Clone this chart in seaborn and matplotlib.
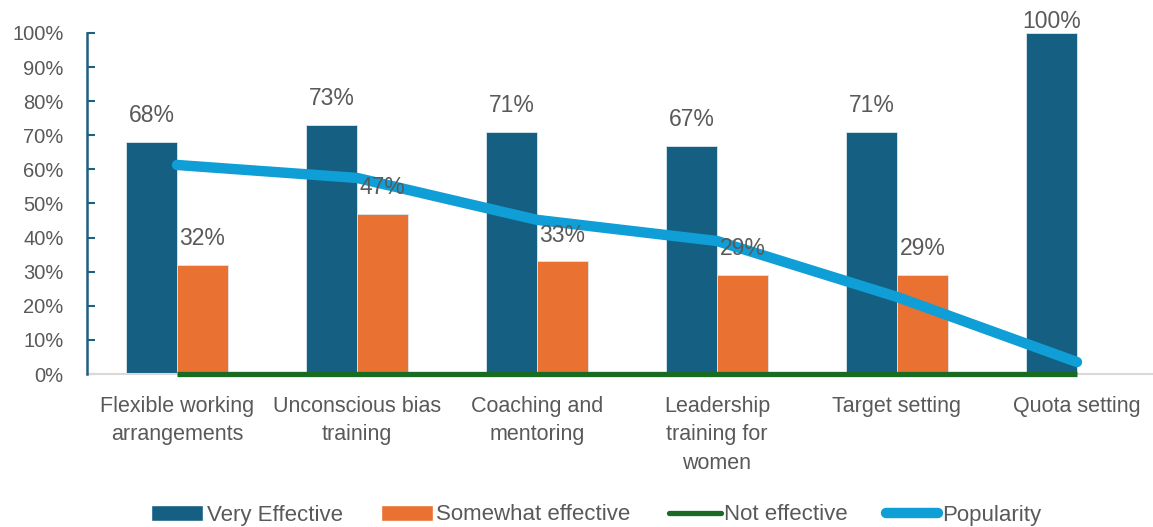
import numpy as np
import pandas as pd
import matplotlib
matplotlib.use("Agg")
import matplotlib.pyplot as plt
import seaborn as sns
from matplotlib.patches import Patch
from matplotlib.lines import Line2D

categories = ["Flexible working\narrangements", "Unconscious bias\ntraining", "Coaching and\nmentoring",
              "Leadership\ntraining for\nwomen", "Target setting", "Quota setting"]
very_effective = [0.68, 0.73, 0.71, 0.67, 0.71, 1.00]
somewhat_effective = [0.32, 0.47, 0.33, 0.29, 0.29, 0.00]
not_effective = [0.0, 0.0, 0.0, 0.0, 0.0, 0.0]
popularity = [0.613, 0.575, 0.452, 0.390, 0.226, 0.035]
y_ticks = [0, 0.1, 0.2, 0.3, 0.4, 0.5, 0.6, 0.7, 0.8, 0.9, 1.0]

C_BLUE = "#156082"
C_ORANGE = "#E97132"
C_GREEN = "#196B24"
C_LBLUE = "#0F9ED5"
C_TEXT = "#595959"

sns.set_style("white")
plt.rcParams['font.family'] = ['Liberation Sans', 'DejaVu Sans']

df = pd.DataFrame({
    "cat": categories * 2,
    "val": very_effective + somewhat_effective,
    "series": ["Very Effective"] * 6 + ["Somewhat effective"] * 6,
})

fig = plt.figure(figsize=(11.53, 5.27), dpi=100)
ax = fig.add_axes([87 / 1153, 153 / 527, 1080 / 1153, 341 / 527])

sns.barplot(data=df, x="cat", y="val", hue="series", order=categories,
            hue_order=["Very Effective", "Somewhat effective"],
            palette=[C_BLUE, C_ORANGE], width=0.567, ax=ax, legend=False,
            edgecolor="#dce6ee", linewidth=0.6, saturation=1)

xs = np.arange(len(categories))
sns.lineplot(x=xs, y=not_effective, ax=ax, color=C_GREEN, linewidth=3.8,
             solid_capstyle="butt", legend=False, clip_on=False, zorder=5)
sns.lineplot(x=xs, y=popularity, ax=ax, color=C_LBLUE, linewidth=7.5,
             solid_capstyle="round", solid_joinstyle="round", legend=False,
             clip_on=False, zorder=6)

# data labels
for cont in ax.containers:
    for rect in cont:
        h = rect.get_height()
        if h <= 0:
            continue
        pad = 8 if h >= 0.999 else 19
        ax.annotate(f"{h*100:.0f}%", (rect.get_x() + rect.get_width() / 2, h),
                    xytext=(0, pad), textcoords="offset points", ha="center",
                    va="center", fontsize=16.5, color=C_TEXT, zorder=7)

ax.set_ylim(0, 1.0)
ax.set_xlim(-0.5, 5.5)
ax.set_yticks(y_ticks)
ax.set_yticklabels([f"{int(round(t*100))}%" for t in y_ticks], fontsize=14.5, color=C_TEXT)
ax.set_xticks(xs)
ax.set_xticklabels(categories, fontsize=15.5, color=C_TEXT, linespacing=1.45)
ax.set_xlabel("")
ax.set_ylabel("")
ax.tick_params(axis="y", left=True, direction="in", length=6, width=1.5, color="#1F5F7F", pad=17)
ax.tick_params(axis="x", length=0, pad=16)
for s in ["top", "right"]:
    ax.spines[s].set_visible(False)
ax.spines["left"].set_color("#1F5F7F")
ax.spines["left"].set_linewidth(1.8)
ax.spines["bottom"].set_color("#D9D9D9")
ax.spines["bottom"].set_linewidth(1.5)
ax.spines["bottom"].set_zorder(1)

handles = [Patch(facecolor=C_BLUE), Patch(facecolor=C_ORANGE),
           Line2D([0], [0], color=C_GREEN, lw=3.8, solid_capstyle="round"),
           Line2D([0], [0], color=C_LBLUE, lw=7.5, solid_capstyle="round")]
labels = ["Very Effective", "Somewhat effective", "Not effective", "Popularity"]
fig.legend(handles, labels, loc="center", bbox_to_anchor=(596 / 1153, 1 - 515 / 527),
           ncol=4, frameon=False, handlelength=2.35, handletextpad=0.15,
           columnspacing=1.72, prop={"size": 16},
           labelcolor=C_TEXT)

fig.savefig("out.png", dpi=100)
